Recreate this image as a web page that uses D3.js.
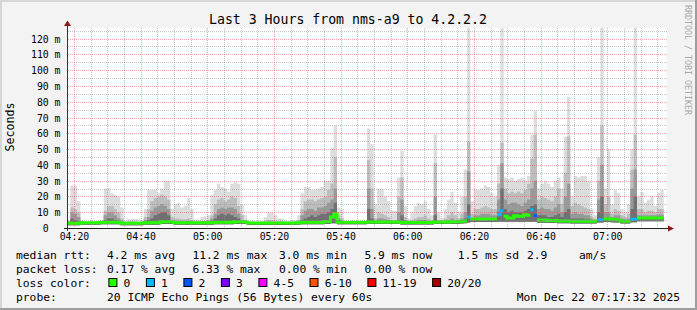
<!DOCTYPE html>
<html><head><meta charset="utf-8">
<script src="https://cdn.jsdelivr.net/npm/d3@7/dist/d3.min.js"></script>
<style>
body{margin:0;background:#f3f3f3;}
svg text{font-family:"DejaVu Sans Mono",monospace;}
</style>
</head><body>
<svg id="chart" width="697" height="310"></svg>
<script>
// ---------------- data ----------------
const startTime = "2025-12-22T04:17:55";
const titleText = "Last 3 Hours from nms-a9 to 4.2.2.2";
// one value per minute (20 pings each); null = no data
const medianRtt = [
 3.0,3.0,3.0,3.0,3.3,3.3,3.3,3.3,3.3,3.3,
 3.6,3.6,3.6,3.6,3.6,3.6,3.0,3.0,3.0,3.0,
 3.0,3.0,3.0,3.3,3.3,3.3,3.3,3.3,3.9,3.9,
 3.9,3.9,3.3,3.3,3.3,3.3,3.3,3.3,3.3,3.3,
 3.3,3.3,3.3,3.3,3.6,3.6,3.6,3.6,3.6,3.6,
 4.0,4.0,4.0,4.0,3.1,3.1,3.1,3.1,3.1,3.1,
 3.1,3.1,3.1,3.1,3.1,3.1,3.1,3.1,3.1,3.3,
 3.6,3.6,3.6,3.6,3.6,3.6,3.6,4.1,4.1,7.0,
 9.0,3.6,3.6,3.6,3.6,3.6,3.6,3.6,3.6,3.6,
 3.8,3.8,3.8,3.8,3.8,3.8,3.8,3.8,3.8,3.8,
 3.5,3.5,3.5,3.5,3.5,3.5,3.5,3.5,3.5,3.5,
 3.8,3.8,3.8,3.8,3.8,4.0,4.0,4.0,4.2,4.5,
 7.0,5.7,5.7,5.7,5.7,5.7,5.7,5.7,5.7,8.4,
 11.0,7.4,6.3,6.3,7.8,7.4,7.4,8.4,8.0,11.5,
 7.8,5.0,5.0,5.0,4.8,4.8,4.8,4.5,4.5,4.5,
 4.5,4.3,4.3,4.3,4.3,4.3,4.2,4.2,4.2,5.3,
 5.3,5.7,5.7,5.5,5.3,5.3,4.2,4.2,4.2,5.5,
 5.5,6.3,6.3,6.3,6.3,6.3,6.3,6.3,6.3,null
];
const lossCount = [
 0,0,0,0,0,0,0,0,0,0, 0,0,0,0,0,0,0,0,0,0,
 0,0,0,0,0,0,0,0,0,0, 0,0,0,0,0,0,0,0,0,0,
 0,0,0,0,0,0,0,0,0,0, 0,0,0,0,0,0,0,0,0,0,
 0,0,0,0,0,0,0,0,0,0, 0,0,0,0,0,0,0,0,0,0,
 0,0,0,0,0,0,0,0,0,0, 0,0,0,0,0,0,0,0,0,0,
 0,0,0,0,0,0,0,0,0,0, 0,0,0,0,0,0,0,0,0,0,
 1,0,0,0,0,0,0,0,0,1, 1,0,0,0,0,0,0,0,0,1,
 2,0,0,0,0,0,0,0,0,0, 0,0,0,0,0,0,0,0,0,1,
 1,0,0,0,0,0,0,0,0,1, 1,0,0,0,0,0,0,0,0,null
];
const pingMin = [
 1.8,1.8,1.8,1.8,2.0,2.0,2.0,2.0,2.0,2.0,
 2.3,2.3,2.3,2.3,2.3,2.3,1.8,1.8,1.8,1.8,
 1.8,1.8,1.8,2.0,2.0,2.0,2.0,2.0,2.5,2.5,
 2.5,2.5,2.0,2.0,2.0,2.0,2.0,2.0,2.0,2.0,
 2.0,2.0,2.0,2.0,2.3,2.3,2.3,2.3,2.3,2.3,
 2.6,2.6,2.6,2.6,1.9,1.9,1.9,1.9,1.9,1.9,
 1.9,1.9,1.9,1.9,1.9,1.9,1.9,1.9,1.9,2.0,
 2.3,2.3,2.3,2.3,2.3,2.3,2.3,2.6,2.6,3.0,
 3.0,2.3,2.3,2.3,2.3,2.3,2.3,2.3,2.3,2.3,
 2.5,2.5,2.5,2.5,2.5,2.5,2.5,2.5,2.5,2.5,
 2.2,2.2,2.2,2.2,2.2,2.2,2.2,2.2,2.2,2.2,
 2.5,2.5,2.5,2.5,2.5,2.6,2.6,2.6,2.8,3.0,
 3.5,3.8,3.8,3.8,3.8,3.8,3.8,3.8,3.8,4.0,
 4.0,4.0,4.0,4.0,4.0,4.0,4.0,4.0,4.0,4.0,
 4.0,3.3,3.3,3.3,3.2,3.2,3.2,3.0,3.0,3.0,
 3.0,2.9,2.9,2.9,2.9,2.9,2.8,2.8,2.8,3.5,
 3.5,3.8,3.8,3.6,3.5,3.5,2.8,2.8,2.8,3.6,
 3.6,4.2,4.2,4.2,4.2,4.2,4.2,4.2,4.2,null
];
const ping12 = [
 3.6,6,5,4.5,3.7,3.6,3.6,3.6,3.6,3.6,
 3.8,5,6,6,5,4.5,4,3.3,3.3,3.3,
 3.3,3.3,3.4,4,5,6,8,9,10,10,
 8,4,4,4,3.9,3.9,3.9,3.8,3.6,3.6,
 3.7,3.7,3.8,4.5,6,8,9,8,9,8,
 7,6,4.5,4,3.4,3.3,3.3,3.3,3.3,3.4,
 3.5,3.5,3.4,3.4,3.4,3.3,3.3,3.3,3.3,3.6,
 5,6,7,8,7,8,9,9,10,12,
 16,5,4,3.7,3.7,3.7,3.7,3.7,3.7,3.7,
 12,6,4,4.5,4.5,4.3,4.2,4,4,5,
 8,4.2,3.8,3.9,4,4.2,4.2,4.2,4,4,
 8,4,3.9,4.1,4.3,4.5,4.3,4.2,4.5,6,
 15,5,6,6,6.5,6.5,6.5,6.3,6.3,10,
 25,12,10,11,10,10,10,11,12,14,
 15,8,8,8,7,7,8,9,7,10,
 12,6,6,6,6,5.5,5.5,5,4.7,10,
 20,6.5,6.5,6,6,6,5,4.8,5,12,
 20,7,7,7,7,7,7,7,7,null
];
const ping15 = [
 4,10,9,7,4,3.7,3.7,3.7,3.7,3.7,
 4,8,10,10,8,6,4.5,3.5,3.6,3.7,
 3.7,3.6,3.6,5,7,11,13,14,15,14,
 12,5,4.5,4.5,4.3,4.3,4.5,4.2,3.9,3.9,
 4,4,4.2,6,9,12,13,12,13,13,
 12,9,5,4.3,3.6,3.5,3.5,3.5,3.5,3.8,
 4,4,3.8,3.7,3.7,3.5,3.5,3.6,3.6,4,
 8,11,12,12,11,13,13,14,16,18,
 25,6,4.5,3.8,3.8,3.8,3.8,3.8,3.8,3.8,
 25,12,4.5,6,6,5.5,5,4.3,4.3,10,
 18,5,4,4.2,4.5,5,5,5,4.5,4.3,
 20,4.3,4.1,4.5,5,6,5,4.5,6,10,
 36,6,8,8,9,9,9,8,8,18,
 41,18,15,16,16,15,14,16,18,25,
 30,12,13,12,12,11,13,15,10,20,
 28,9,10,9,9,8,8,5.5,5,18,
 40,10,10,7,8,8,6,5.5,6,25,
 37,8,8,8,8,8,8,8.5,8.5,null
];
const ping18 = [
 4.5,13,12,10,4.5,3.9,3.9,3.9,3.9,3.9,
 4.3,11,14,14,12,10,6,3.8,4.2,4.5,
 4.3,4,3.8,7,12,17,19,20,21,20,
 18,7,6,6,5.5,5.5,6,5,4.3,4.3,
 4.5,4.5,5,8,15,18,19,17,18,20,
 19,14,8,5,4,3.8,3.8,3.8,3.8,4.5,
 5,5,4.5,4.2,4.2,3.8,3.8,4,4,5,
 12,17,18,18,17,18,19,20,24,28,
 45,8,6,4,4,4,4,4,4,4,
 43,25,6,10,9,8,7,5,5,20,
 32,7,4.5,5,6,7,7,8,6,5,
 41,5,4.5,6,8,10,8,6,9,20,
 55,9,12,12,13,14,13,12,12,28,
 54,25,22,23,22,23,22,24,28,44,
 59,18,20,19,18,17,20,25,15,35,
 58,14,16,15,14,13,12,7,6,30,
 65,15,20,9,12,11,8,7,9,37,
 59,12,12,10,11,11,10,12,12,null
];
const pingMax = [
 5,27,27,17,5,4.3,4.2,4.2,4.5,4.2,
 5,25,25,22,21,20,13,4.5,5.5,5.7,
 5.7,5.5,4.5,12,24,24,24,22,25,30,
 30,12,15,16,13,14,19,12,5,5.3,
 7,7.4,8,21,24,28,26,25,23,28,
 29,28,15,8,4.5,4.3,4.3,4.3,4.3,7,
 9.5,9.7,8,6,6,4.5,4.5,5,5,8,
 22,26,26,24,24,25,26,30,30,51,
 65,13,12,4.5,4.5,4.5,4.5,4.5,4.5,4.5,
 63,53,15,25,25,20,17,11,11,32,
 49,14,6,10,14,16,15,17,12,8,
 59,10,6,12,18,23,16,10,20,37,
 130,17,24,24,25,27,26,22,20,40,
 130,32,31,32,30,31,32,30,33,59,
 74,25,28,30,28,26,30,32,25,58,
 83,20,33,32,33,33,30,12,8,45,
 130,25,50,15,24,22,12,10,15,50,
 130,20,23,16,18,20,14,22,24,null
];
const yTickValues = [0,10,20,30,40,50,60,70,80,90,100,110,120];
const yTickLabels = ["0","10 m","20 m","30 m","40 m","50 m","60 m","70 m","80 m","90 m","100 m","110 m","120 m"];
const xTickLabels = ["04:20","04:40","05:00","05:20","05:40","06:00","06:20","06:40","07:00"];
const medianStats = ["4.2 ms avg","11.2 ms max","3.0 ms min","5.9 ms now","1.5 ms sd","2.9","am/s"];
const lossStats = ["0.17 % avg","6.33 % max","0.00 % min","0.00 % now"];
const lossLabels = ["0","1","2","3","4-5","6-10","11-19","20/20"];
const lossColors = ["#26ff00","#00b8ff","#0059ff","#7e00ff","#ff00ff","#ff5500","#ff0000","#a10000"];
const lossClassOf = n => n===0?0:n===1?1:n===2?2:n===3?3:n<=5?4:n<=10?5:n<=19?6:7;
const probeText = "20 ICMP Echo Pings (56 Bytes) every 60s";
const dateText = "Mon Dec 22 07:17:32 2025";

// ---------------- drawing ----------------
const svg = d3.select("#chart");
const W = 697, H = 310;
const L = 67, R = 667, T = 28, B = 228;

svg.append("rect").attr("width",W).attr("height",H).attr("fill","#f3f3f3");
svg.append("path").attr("d",`M1,${H} V1 H${W}`).attr("fill","none").attr("stroke","#d6d6d6").attr("stroke-width",2);
svg.append("path").attr("d",`M0,${H-1} H${W-1} V0`).attr("fill","none").attr("stroke","#9e9e9e").attr("stroke-width",2);

const t0 = d3.timeParse("%Y-%m-%dT%H:%M:%S")(startTime);
const n = pingMax.length;
const tEnd = d3.timeMinute.offset(t0, n);
const x = d3.scaleTime().domain([t0, tEnd]).range([L, R]);
const y = d3.scaleLinear().domain([0, 126.7]).range([B, T]).clamp(true);

svg.append("rect").attr("x",L).attr("y",T).attr("width",R-L).attr("height",B-T).attr("fill","#ffffff");
svg.append("clipPath").attr("id","plotclip").append("rect").attr("x",L).attr("y",T).attr("width",R-L).attr("height",B-T);
const plot = svg.append("g").attr("clip-path","url(#plotclip)");

function colPoints(hiArr){
  const pts = [];
  for (let i=0;i<n;i++){
    const t1 = d3.timeMinute.offset(t0,i), t2 = d3.timeMinute.offset(t0,i+1);
    const ok = hiArr[i]!=null;
    pts.push({t:t1, lo:pingMin[i], hi:hiArr[i], ok});
    pts.push({t:t2, lo:pingMin[i], hi:hiArr[i], ok});
  }
  return pts;
}
const area = d3.area().defined(d=>d.ok).x(d=>x(d.t)).y0(d=>y(d.lo)).y1(d=>y(d.hi));
const layers = [
  {hi:pingMax, color:"#dddddd"},
  {hi:ping18, color:"#bdbdbd"},
  {hi:ping15, color:"#999999"},
  {hi:ping12, color:"#707070"}
];
layers.forEach(l=>{
  plot.append("path").datum(colPoints(l.hi)).attr("d",area).attr("fill",l.color);
});

const line = d3.line().defined(d=>d!=null).x(d=>x(d.t)).y(d=>y(d.v));
lossColors.forEach((c,ci)=>{
  const pts = [];
  for (let i=0;i<n;i++){
    if (medianRtt[i]!=null && lossCount[i]!=null && lossClassOf(lossCount[i])===ci){
      pts.push({t:d3.timeMinute.offset(t0,i), v:medianRtt[i]});
      pts.push({t:d3.timeMinute.offset(t0,i+1), v:medianRtt[i]});
    } else pts.push(null);
  }
  if (pts.some(p=>p)) plot.append("path").datum(pts).attr("d",line).attr("fill","none")
     .attr("stroke",c).attr("stroke-width",3);
});

// grid drawn on top of the data
const grid = svg.append("g");
const yMinor = d3.range(5,127,5).filter(v=>v%10!==0);
const yMajor = yTickValues.filter(v=>v>0);
const xAll = d3.timeMinute.every(5).range(t0,tEnd);
const xMinor = xAll.filter(t=>t.getMinutes()%20!==0);
const xMajor = xAll.filter(t=>t.getMinutes()%20===0);
const minorCol = "rgba(140,140,140,0.5)", majorCol = "rgba(235,80,80,0.5)";
function hLines(vals,col){
  vals.forEach(v=>{
    const yy = Math.round(y(v))+0.5;
    grid.append("line").attr("x1",L+1).attr("x2",R).attr("y1",yy).attr("y2",yy)
      .attr("stroke",col).attr("stroke-dasharray","1,1");
  });
}
function vLines(vals,col){
  vals.forEach(v=>{
    const xx = Math.round(x(v))+0.5;
    grid.append("line").attr("x1",xx).attr("x2",xx).attr("y1",T).attr("y2",B)
      .attr("stroke",col).attr("stroke-dasharray","1,1");
  });
}
hLines(yMinor,minorCol); vLines(xMinor,minorCol);
hLines(yMajor,majorCol); vLines(xMajor,majorCol);

// axes
svg.append("line").attr("x1",L+0.5).attr("x2",L+0.5).attr("y1",B+3).attr("y2",25).attr("stroke","#333");
svg.append("line").attr("x1",L-3).attr("x2",669).attr("y1",B+0.5).attr("y2",B+0.5).attr("stroke","#222");
svg.append("path").attr("d",`M${L-3},26 L${L+0.5},20.5 L${L+4},26 Z`).attr("fill","#8b1a1a");
svg.append("path").attr("d",`M668,${B-2.5} L674,${B+0.5} L668,${B+3.5} Z`).attr("fill","#8b1a1a");

const yAxis = d3.axisLeft(y).tickValues(yTickValues).tickSize(0).tickPadding(0)
  .tickFormat((d,i)=> i===0 ? yTickLabels[i]+"  " : yTickLabels[i]);
const ya = svg.append("g").attr("transform",`translate(${L-6.5},0)`).call(yAxis);
ya.select(".domain").remove();
ya.selectAll("text").attr("font-family","DejaVu Sans Mono").attr("font-size","9.8px")
  .attr("fill","#000").style("white-space","pre").attr("dy","0.36em");

const xAxis = d3.axisBottom(x).tickValues(xMajor).tickSize(0).tickPadding(0)
  .tickFormat((d,i)=>xTickLabels[i]);
const xa = svg.append("g").attr("transform",`translate(0,${B+5})`).call(xAxis);
xa.select(".domain").remove();
xa.selectAll("text").attr("font-family","DejaVu Sans Mono").attr("font-size","9.8px").attr("fill","#000").attr("dy","0.71em");

svg.append("text").attr("x",348).attr("y",23.5).attr("text-anchor","middle")
  .attr("font-size","13.2px").attr("fill","#000").text(titleText);
svg.append("text").attr("transform","translate(14,127) rotate(-90)").attr("text-anchor","middle")
  .attr("font-size","11.6px").attr("fill","#000").text("Seconds");
svg.append("text").attr("transform","translate(685,5) rotate(90)").attr("text-anchor","start")
  .attr("font-size","8.3px").attr("fill","#a8a8a8").text("RRDTOOL / TOBI OETIKER");

// legend
const lg = svg.append("g").attr("font-size","11.3px").attr("fill","#000");
const statX = [107,192.4,279,364.4,457.8,527,579];
lg.append("text").attr("x",16).attr("y",259).text("median rtt:");
medianStats.forEach((s,i)=>lg.append("text").attr("x",statX[i]).attr("y",259).text(s));
lg.append("text").attr("x",16).attr("y",272.5).text("packet loss:");
lossStats.forEach((s,i)=>lg.append("text").attr("x",statX[i]).attr("y",272.5).text(s));
lg.append("text").attr("x",16).attr("y",287).text("loss color:");
let cx = 108.4;
lossLabels.forEach((lab,i)=>{
  lg.append("rect").attr("x",cx+0.5).attr("y",278.5).attr("width",8).attr("height",8)
    .attr("fill",lossColors[i]).attr("stroke","#000").attr("stroke-width",1);
  lg.append("text").attr("x",cx+15.2).attr("y",287).text(lab);
  cx = cx + 15.2 + lab.length*6.8 + 15.5;
});
lg.append("text").attr("x",16).attr("y",301).text("probe:");
lg.append("text").attr("x",107).attr("y",301).text(probeText);
lg.append("text").attr("x",680).attr("y",301).attr("text-anchor","end").text(dateText);
</script>
</body></html>
